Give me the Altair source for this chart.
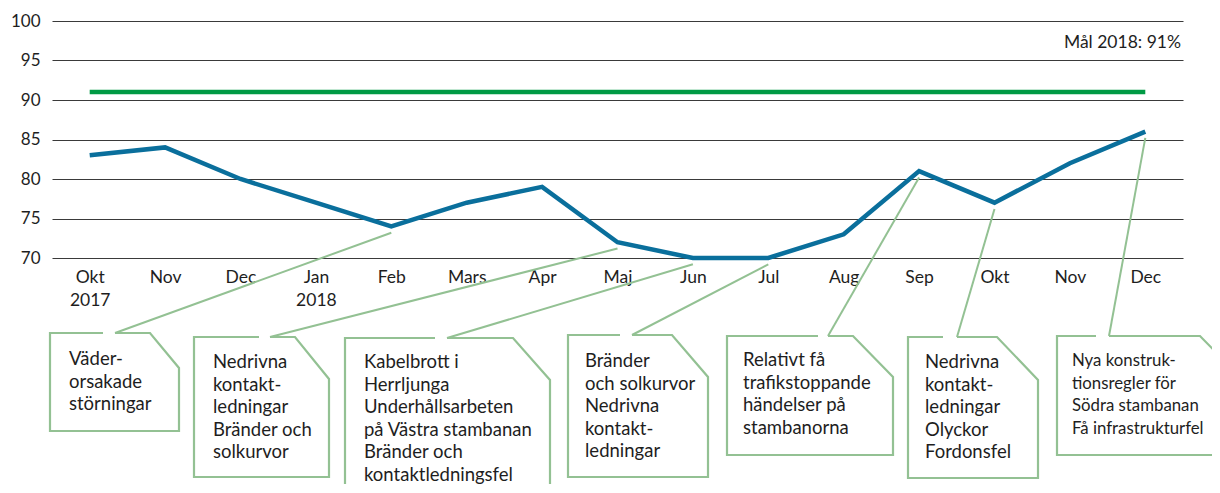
import json
import altair as alt
import pandas as pd

# ---------------- data ----------------
month_keys = ["Okt 2017", "Nov 2017", "Dec 2017", "Jan 2018", "Feb 2018", "Mars 2018",
              "Apr 2018", "Maj 2018", "Jun 2018", "Jul 2018", "Aug 2018", "Sep 2018",
              "Okt 2018", "Nov 2018", "Dec 2018"]
tick_labels = [["Okt", "2017"], "Nov", "Dec", ["Jan", "2018"], "Feb", "Mars", "Apr", "Maj",
               "Jun", "Jul", "Aug", "Sep", "Okt", "Nov", "Dec"]
punctuality = [83, 84, 80, 77, 74, 77, 79, 72, 70, 70, 73, 81, 77, 82, 86]
goal_value = 91
goal_label = "Mål 2018: 91%"
y_ticks = [70, 75, 80, 85, 90, 95, 100]

callout_texts = [
    ["Väder-", "orsakade", "störningar"],
    ["Nedrivna", "kontakt-", "ledningar", "Bränder och", "solkurvor"],
    ["Kabelbrott i", "Herrljunga", "Underhållsarbeten", "på Västra stambanan", "Bränder och",
     "kontaktledningsfel"],
    ["Bränder", "och solkurvor", "Nedrivna", "kontakt-", "ledningar"],
    ["Relativt få", "trafikstoppande", "händelser på", "stambanorna"],
    ["Nedrivna", "kontakt-", "ledningar", "Olyckor", "Fordonsfel"],
    ["Nya konstruk-", "tionsregler för", "Södra stambanan", "Få infrastrukturfel"],
]
callout_months = ["Feb 2018", "Maj 2018", "Jun 2018", "Jul 2018", "Sep 2018", "Okt 2018", "Dec 2018"]

# ---------------- layout (page pixels, styling only) ----------------
PLOT_W, PLOT_H = 1131, 237
PAD_L, PAD_T, PAD_R, PAD_B = 44, 13, 29, 226
OX, OY = 8 + PAD_L, 8 + PAD_T  # plot origin on page

# left, top, right, bottom, fold_x, fold_y, gap_left, gap_right, text_x, text_baseline, font_size
box_layout = [
    (50, 333, 179, 431, 150, 368, 103, 115, 69, 365, 18.5),
    (194, 337, 329, 477, 295, 379, 259, 270, 213, 368, 18.5),
    (345, 338, 550, 530, 513, 380, 435, 447, 364, 368, 18.5),
    (568, 335, 708, 477, 672, 377, 620, 632, 585, 367, 18.5),
    (727, 336, 893, 455, 853, 377, 818, 828, 743, 366, 18.5),
    (908, 337, 1038, 478, 997, 380, 943, 957, 925, 368, 18.5),
    (1057, 336, 1245, 455, 1200, 382, 1096, 1109, 1072, 366, 16.8),
]
ANCHOR_DROP = 0.8

BLUE = "#0a6f9c"
GOAL_GREEN = "#009a44"
SAGE = "#93c193"
TEXT = "#1e1e1e"
GRID = "#3a3a3a"
FONT = "Lato"

# ---------------- tables ----------------
df = pd.DataFrame({"month": month_keys, "value": punctuality, "goal": goal_value})

box_rows = []
text_rows = []
for i, (L, T, R, B, fx, fy, gl, gr, tx, ty, fs) in enumerate(box_layout):
    path = [(gr, T), (fx, T), (R, fy), (R, B), (L, B), (L, T), (gl, T)]
    for j, (px, py) in enumerate(path):
        box_rows.append({"box": i, "ord": j, "px": px - OX, "py": py - OY})
    text_rows.append({"tx": tx - OX, "ty": ty - OY, "fs": fs,
                      "label": "\n".join(callout_texts[i])})
box_df = pd.DataFrame(box_rows)
text_df = pd.DataFrame(text_rows)

label_map = {k: v for k, v in zip(month_keys, tick_labels)}
label_expr = json.dumps(label_map, ensure_ascii=False) + "[datum.value]"

xs = alt.Scale(type="point", domain=month_keys, padding=0.5)
ys = alt.Scale(domain=[70, 100], nice=False, zero=False)

x_axis = alt.Axis(title=None, labelExpr=label_expr, labelAngle=0, domain=False,
                  ticks=False, grid=False, labelPadding=10, labelBaseline="top",
                  labelLineHeight=23, labelFontSize=17.5, labelFont=FONT, labelColor=TEXT)
y_axis = alt.Axis(title=None, values=y_ticks, domain=False, ticks=False,
                  grid=True, gridColor=GRID, gridWidth=1.2, gridOpacity=1,
                  labelPadding=12, labelFontSize=17, labelFont=FONT, labelColor=TEXT)

# ---------------- layers ----------------
boxes = alt.Chart(box_df).mark_line(color=SAGE, strokeWidth=2.2, strokeJoin="miter").encode(
    x=alt.X("px:Q", scale=None),
    y=alt.Y("py:Q", scale=None),
    detail="box:N",
    order="ord:Q",
)

pointer_layers = []
for i, m in enumerate(callout_months):
    L, T, R, B, fx, fy, gl, gr, tx, ty, fs = box_layout[i]
    v = punctuality[month_keys.index(m)]
    pdf = pd.DataFrame({"month": [m], "value": [v - ANCHOR_DROP]})
    pointer_layers.append(
        alt.Chart(pdf).mark_rule(color=SAGE, strokeWidth=2).encode(
            x=alt.X("month:N", scale=xs, axis=x_axis, sort=month_keys),
            y=alt.Y("value:Q", scale=ys, axis=y_axis),
            x2=alt.value(gr - OX),
            y2=alt.value(T - OY),
        )
    )

texts = alt.Chart(text_df).mark_text(
    align="left", baseline="alphabetic", lineBreak="\n", lineHeight=22.6,
    font=FONT, color=TEXT,
).encode(
    x=alt.X("tx:Q", scale=None),
    y=alt.Y("ty:Q", scale=None),
    size=alt.Size("fs:Q", scale=None, legend=None),
    text="label:N",
)

goal_line = alt.Chart(df).mark_line(color=GOAL_GREEN, strokeWidth=4.5).encode(
    x=alt.X("month:N", scale=xs, axis=x_axis, sort=month_keys),
    y=alt.Y("goal:Q", scale=ys, axis=y_axis),
)

goal_text = alt.Chart(pd.DataFrame({"t": [goal_label]})).mark_text(
    align="right", baseline="alphabetic", fontSize=17.5, font=FONT, color=TEXT,
).encode(
    x=alt.value(PLOT_W - 2),
    y=alt.value(48 - OY),
    text="t:N",
)

main = alt.Chart(df).mark_line(color=BLUE, strokeWidth=4.5).encode(
    x=alt.X("month:N", scale=xs, sort=month_keys, axis=x_axis),
    y=alt.Y("value:Q", scale=ys, axis=y_axis),
)

chart = alt.layer(boxes, *pointer_layers, texts, goal_line, goal_text, main).properties(
    width=PLOT_W,
    height=PLOT_H,
    autosize=alt.AutoSizeParams(type="none"),
    padding={"left": PAD_L, "top": PAD_T, "right": PAD_R, "bottom": PAD_B},
).configure(font=FONT).configure_view(stroke=None)

chart.save("out.html", embed_options={"renderer": "svg", "actions": False})
